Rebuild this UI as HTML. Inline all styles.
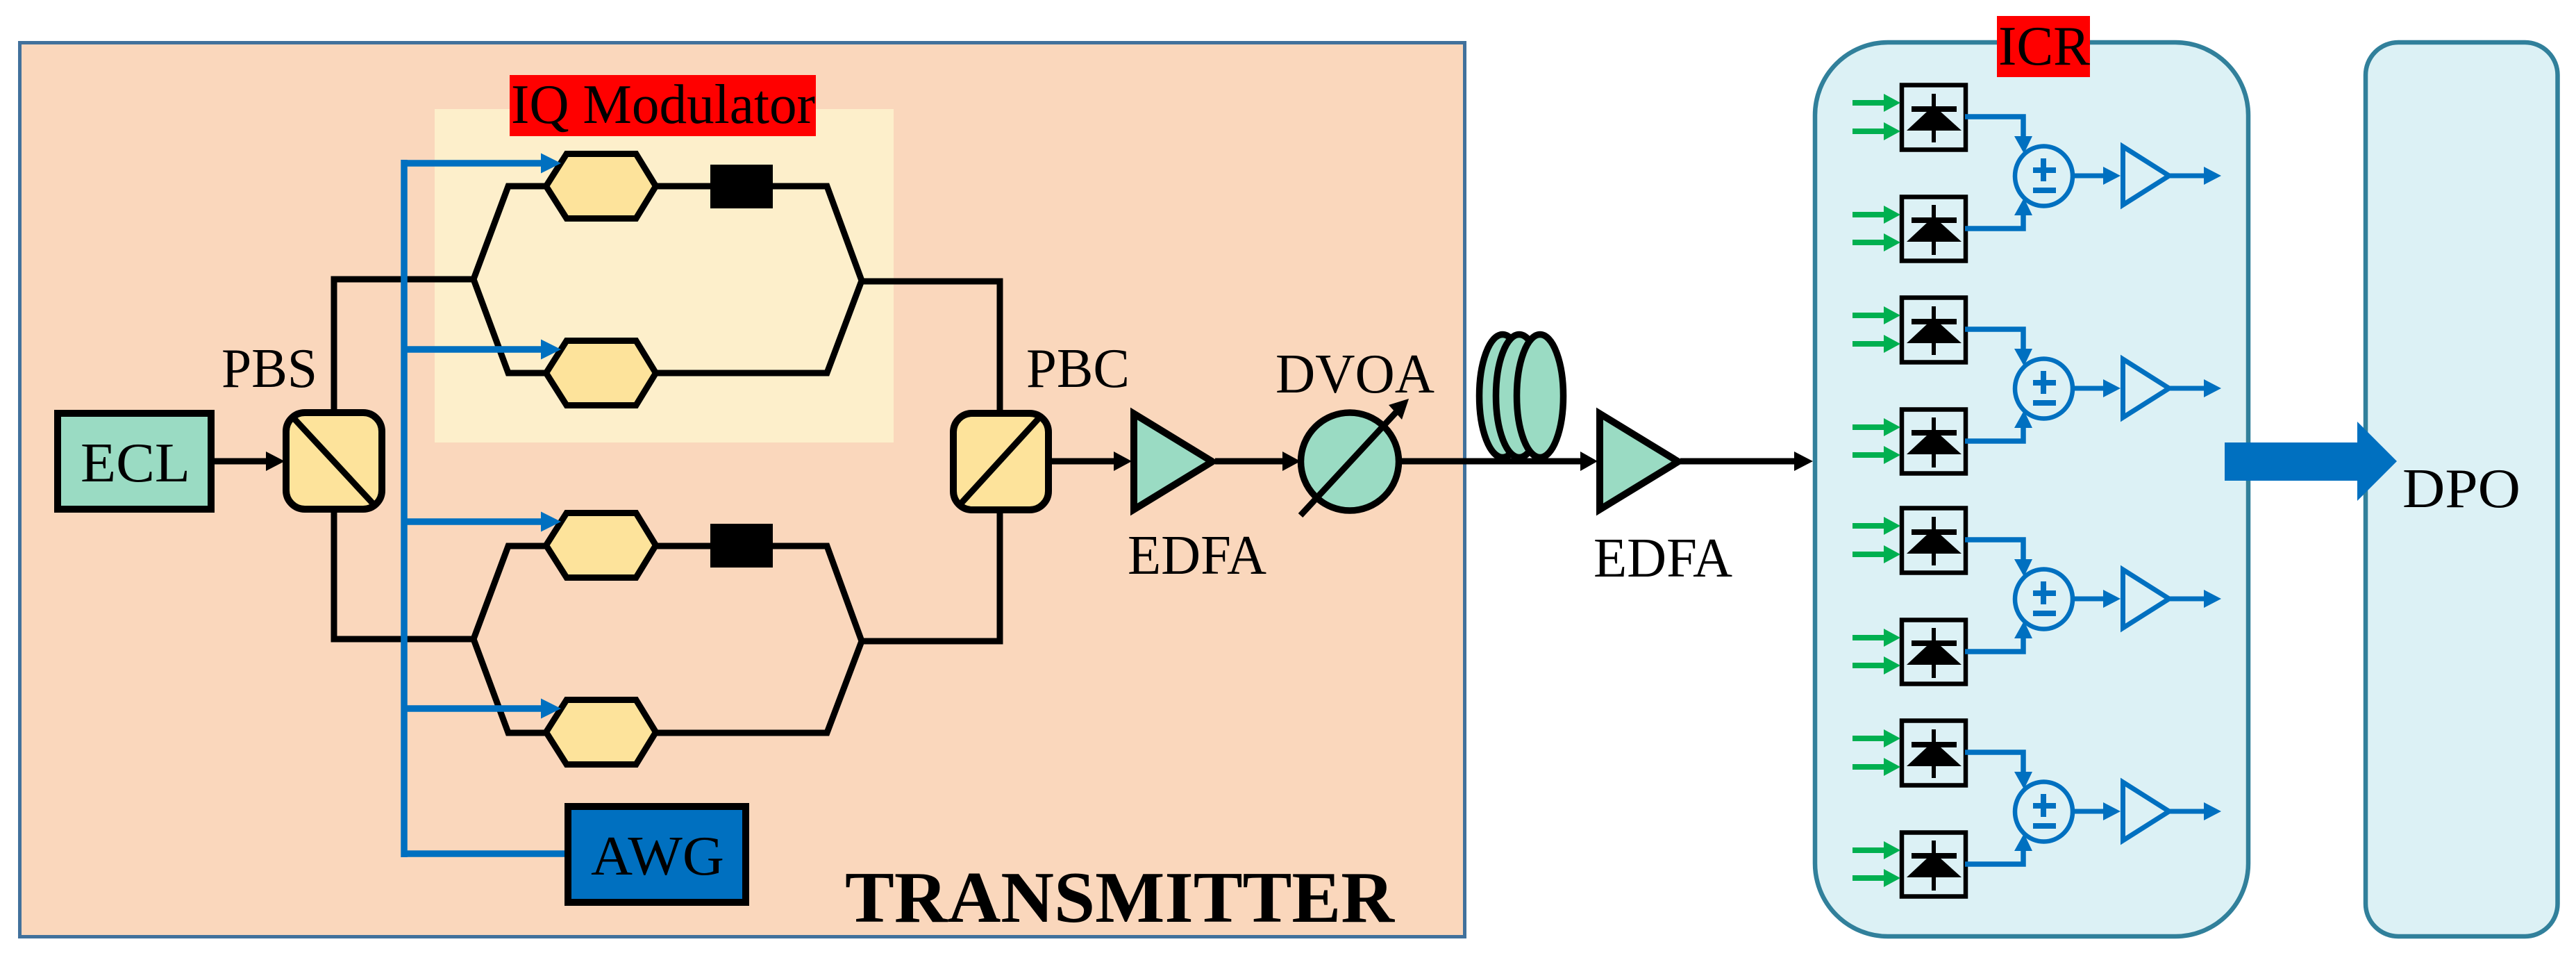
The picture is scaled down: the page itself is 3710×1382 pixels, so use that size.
<!DOCTYPE html>
<html><head><meta charset="utf-8"><title>Coherent transmission setup</title>
<style>html,body{margin:0;padding:0;background:#fff}svg{display:block}text{font-family:"Liberation Serif",serif;fill:#000}</style>
</head><body>
<svg xmlns="http://www.w3.org/2000/svg" width="3710" height="1382" viewBox="0 0 3710 1382">
<defs>
<g id="det">
  <rect x="2739" y="122.5" width="92" height="93" fill="none" stroke="#000" stroke-width="6.5"/>
  <path d="M2785 135V205" stroke="#000" stroke-width="6"/>
  <rect x="2753" y="153" width="65" height="8"/>
  <polygon points="2746,188 2825,188 2794,160 2776,160"/>
  <path d="M2668 148H2716M2668 189H2716" stroke="#00B050" stroke-width="8"/>
  <polygon points="2713,135 2737,148 2713,161" fill="#00B050"/>
  <polygon points="2713,176 2737,189 2713,202" fill="#00B050"/>
</g>
<g id="det2">
  <rect x="2739" y="283.5" width="92" height="92" fill="none" stroke="#000" stroke-width="6.5"/>
  <path d="M2785 295V367" stroke="#000" stroke-width="6"/>
  <rect x="2753" y="313" width="65" height="8"/>
  <polygon points="2746,348 2825,348 2794,320 2776,320"/>
  <path d="M2668 309H2716M2668 349H2716" stroke="#00B050" stroke-width="8"/>
  <polygon points="2713,296 2737,309 2713,322" fill="#00B050"/>
  <polygon points="2713,336 2737,349 2713,362" fill="#00B050"/>
</g>
<g id="grp">
  <use href="#det"/><use href="#det2"/>
  <path d="M2830 168H2914V200M2830 329H2914V305" fill="none" stroke="#0070C0" stroke-width="7.5"/>
  <polygon points="2901,196 2927,196 2915,221" fill="#0070C0"/>
  <polygon points="2901,310 2927,310 2915,285" fill="#0070C0"/>
  <ellipse cx="2943.5" cy="253.5" rx="41.5" ry="43" fill="none" stroke="#0070C0" stroke-width="6.5"/>
  <path d="M2928 245H2961M2943 228V261M2928 274H2961" stroke="#0070C0" stroke-width="8" fill="none"/>
  <path d="M2988 253H3032" stroke="#0070C0" stroke-width="7"/>
  <polygon points="3029,240 3054,253 3029,266" fill="#0070C0"/>
  <polygon points="3057.5,211 3124,253 3057.5,295" fill="none" stroke="#0070C0" stroke-width="7"/>
  <path d="M3124 253H3177" stroke="#0070C0" stroke-width="7"/>
  <polygon points="3174,240 3199,253 3174,266" fill="#0070C0"/>
</g>
<polygon id="hex" points="786.5,0 816,-46.5 916,-46.5 944.5,0 916,46.5 816,46.5" fill="#FDE39B" stroke="#000" stroke-width="9"/>
</defs>

<!-- Transmitter -->
<rect x="28.5" y="61.5" width="2081" height="1287" fill="#FAD7BC" stroke="#41719C" stroke-width="5"/>
<rect x="626" y="157" width="661" height="480" fill="#FDEFCB"/>
<rect x="734" y="108" width="441" height="88" fill="#FF0000"/>
<text x="736" y="177" font-size="80" textLength="438" lengthAdjust="spacingAndGlyphs">IQ Modulator</text>

<!-- Black wires -->
<g fill="none" stroke="#000" stroke-width="9">
  <path d="M481 590V402H682"/>
  <path d="M790 268H732L682 402L732 537H790"/>
  <path d="M940 268H1191L1241 404L1191 537H940"/>
  <path d="M1241 405H1440V591"/>
  <path d="M481 738V920H682"/>
  <path d="M790 786H732L682 920L732 1055H790"/>
  <path d="M940 786H1191L1241 923L1191 1055H940"/>
  <path d="M1241 923H1440V738"/>
</g>
<rect x="1023" y="237" width="90" height="63"/>
<rect x="1023" y="754" width="90" height="63"/>
<use href="#hex" y="268"/>
<use href="#hex" y="537"/>
<use href="#hex" y="785"/>
<use href="#hex" y="1054"/>

<!-- Blue control -->
<path d="M582 230V1234M582 235H782M582 503H782M582 751H782M582 1020H782M582 1229H815" fill="none" stroke="#0070C0" stroke-width="9.5"/>
<polygon points="779,220.5 808,235 779,249.5" fill="#0070C0"/>
<polygon points="779,488.5 808,503 779,517.5" fill="#0070C0"/>
<polygon points="779,736.5 808,751 779,765.5" fill="#0070C0"/>
<polygon points="779,1005.5 808,1020 779,1034.5" fill="#0070C0"/>

<!-- ECL / PBS -->
<rect x="83" y="595" width="221" height="138" fill="#9ADBC3" stroke="#000" stroke-width="10"/>
<text x="116" y="693" font-size="80" textLength="158" lengthAdjust="spacingAndGlyphs">ECL</text>
<path d="M309 664H386" stroke="#000" stroke-width="9"/>
<polygon points="383,650 410,664 383,678"/>
<rect x="412" y="594" width="138" height="139" rx="27" ry="27" fill="#FDE39B" stroke="#000" stroke-width="10"/>
<path d="M423 602L539 727" stroke="#000" stroke-width="9"/>
<text x="319" y="557" font-size="80" textLength="138" lengthAdjust="spacingAndGlyphs">PBS</text>

<!-- PBC -->
<rect x="1373" y="595" width="137" height="139" rx="27" ry="27" fill="#FDE39B" stroke="#000" stroke-width="10"/>
<path d="M1498 600L1381 728" stroke="#000" stroke-width="9"/>
<text x="1478" y="557" font-size="80" textLength="149" lengthAdjust="spacingAndGlyphs">PBC</text>

<!-- Main optical line -->
<path d="M1515 664H1607M1750 664H1850M2019 664H2281M2420 664H2587" stroke="#000" stroke-width="9" fill="none"/>
<polygon points="1604,650 1630,664 1604,678"/>
<polygon points="1847,650 1873,664 1847,678"/>
<polygon points="2276,650 2301,664 2276,678"/>
<polygon points="2584,650 2611,664 2584,678"/>

<!-- EDFA 1 -->
<polygon points="1633,595.5 1746,664.5 1633,733.5" fill="#9ADBC3" stroke="#000" stroke-width="10"/>
<text x="1624" y="826" font-size="80" textLength="200" lengthAdjust="spacingAndGlyphs">EDFA</text>

<!-- DVOA -->
<circle cx="1944" cy="664.5" r="70.5" fill="#9ADBC3" stroke="#000" stroke-width="9.5"/>
<path d="M1873 742L2012 592" stroke="#000" stroke-width="9" fill="none"/>
<polygon points="2029,574 2000,583 2019,604"/>
<text x="1837" y="565" font-size="80" textLength="229" lengthAdjust="spacingAndGlyphs">DVOA</text>

<!-- Fiber coil -->
<ellipse cx="2164" cy="570" rx="33.5" ry="88.5" fill="#9ADBC3" stroke="#000" stroke-width="9.5"/>
<ellipse cx="2188" cy="570" rx="33.5" ry="88.5" fill="#9ADBC3" stroke="#000" stroke-width="9.5"/>
<ellipse cx="2218" cy="570" rx="33.5" ry="88.5" fill="#9ADBC3" stroke="#000" stroke-width="9.5"/>
<path d="M2100 664H2281" stroke="#000" stroke-width="9"/>

<!-- EDFA 2 -->
<polygon points="2304,595.5 2417,664.5 2304,733.5" fill="#9ADBC3" stroke="#000" stroke-width="10"/>
<text x="2295" y="830" font-size="80" textLength="200" lengthAdjust="spacingAndGlyphs">EDFA</text>

<!-- AWG -->
<rect x="818" y="1161" width="256" height="138" fill="#0070C0" stroke="#000" stroke-width="10"/>
<text x="851" y="1259" font-size="80" textLength="192" lengthAdjust="spacingAndGlyphs">AWG</text>
<text x="1217" y="1327" font-size="105" font-weight="bold" textLength="791" lengthAdjust="spacingAndGlyphs">TRANSMITTER</text>

<!-- ICR -->
<rect x="2614" y="61" width="624" height="1287" rx="105" ry="105" fill="#DCF1F5" stroke="#31809B" stroke-width="6.5"/>
<rect x="2876" y="23" width="134" height="88" fill="#FF0000"/>
<text x="2878" y="93" font-size="80" textLength="132" lengthAdjust="spacingAndGlyphs">ICR</text>
<use href="#grp"/>
<use href="#grp" y="306"/>
<use href="#grp" y="609"/>
<use href="#grp" y="915"/>

<!-- DPO -->
<rect x="3407" y="61" width="276.5" height="1287" rx="47" ry="47" fill="#DCF1F5" stroke="#31809B" stroke-width="6.5"/>
<polygon points="3204,637 3395,637 3395,607 3452,664 3395,721 3395,692 3204,692" fill="#0070C0"/>
<text x="3460" y="730" font-size="80" textLength="170" lengthAdjust="spacingAndGlyphs">DPO</text>
</svg>
</body></html>
